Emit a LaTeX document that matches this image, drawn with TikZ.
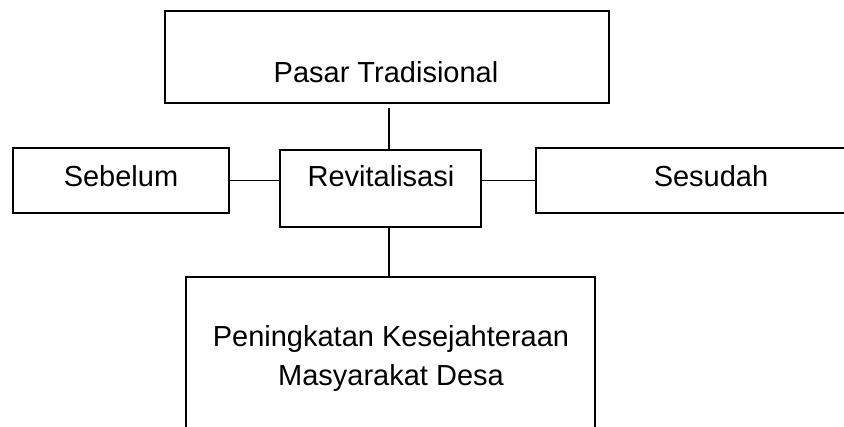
\documentclass[tikz,border=0pt]{standalone}
\usepackage{fontspec}
\setmainfont{Liberation Sans}
\begin{document}
\begin{tikzpicture}[x=1pt,y=-1pt,
  box/.style={draw=black,line width=1.6pt,inner sep=0pt,outer sep=0pt,fill=white},
  txt/.style={anchor=base,inner sep=0pt,font=\fontsize{29}{39}\selectfont},
  link/.style={draw=black,line width=1.6pt}]
\useasboundingbox[clip] (0,0) rectangle (844,427);
\fill[white] (0,0) rectangle (844,427);
\node[box,minimum width=444pt,minimum height=92pt] (pasar) at (387,57) {};
\node[box,minimum width=216pt,minimum height=65pt] (sebelum) at (121,180.5) {};
\node[box,minimum width=201pt,minimum height=77pt] (revit) at (380.5,188.5) {};
\node[box,minimum width=350pt,minimum height=65pt] (sesudah) at (711,180.5) {};
\node[box,minimum width=409pt,minimum height=173pt] (hasil) at (390.5,363.5) {};
\node[txt] (tpasar) at (386,83) {Pasar Tradisional};
\node[txt] (tsebelum) at (121,187) {Sebelum};
\node[txt] (trevit) at (381,187) {Revitalisasi};
\node[txt] (tsesudah) at (711,187) {Sesudah};
\node[txt] (thasil1) at (391,347) {Peningkatan Kesejahteraan};
\node[txt] (thasil2) at (391,386) {Masyarakat Desa};
\coordinate (ptop) at (389,108);
\draw[link] (ptop) -- (ptop |- revit.north);
\draw[link] (revit.south -| ptop) -- (hasil.north -| ptop);
\draw[link] (sebelum.east) -- (sebelum.east -| revit.west);
\draw[link] (revit.east |- sesudah.west) -- (sesudah.west);
\end{tikzpicture}
\end{document}
